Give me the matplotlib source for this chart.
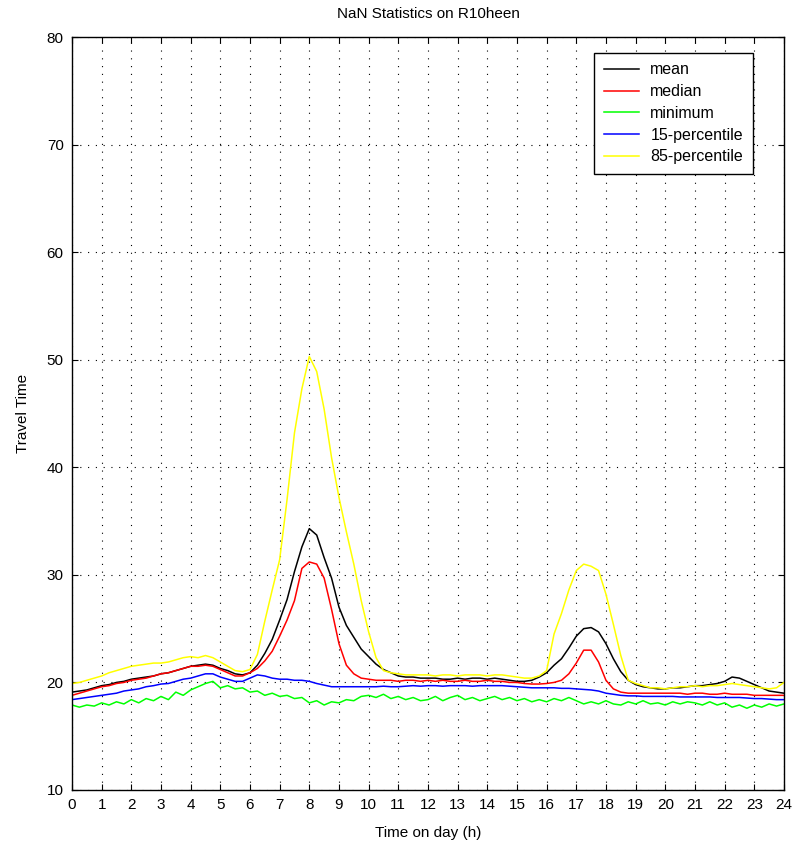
import matplotlib
matplotlib.use("Agg")
import matplotlib.pyplot as plt
import numpy as np

plt.rcParams['font.family'] = ['Liberation Sans Narrow', 'Liberation Sans', 'DejaVu Sans']

# hora del dia, cada 15 minutos
horas = np.arange(0, 24.01, 0.25)

media = [19.1, 19.2, 19.3, 19.5, 19.7, 19.8, 20.0, 20.1, 20.3, 20.4, 20.5, 20.6,
         20.8, 20.9, 21.1, 21.3, 21.5, 21.6, 21.7, 21.6, 21.3, 21.1, 20.8, 20.7,
         20.9, 21.6, 22.7, 24.0, 25.8, 27.7, 30.3, 32.6, 34.3, 33.7, 31.6, 29.7,
         27.0, 25.3, 24.2, 23.1, 22.4, 21.7, 21.2, 20.9, 20.6, 20.5, 20.5, 20.4,
         20.4, 20.4, 20.3, 20.3, 20.4, 20.3, 20.4, 20.4, 20.3, 20.4, 20.3, 20.2,
         20.1, 20.1, 20.2, 20.5, 20.9, 21.6, 22.2, 23.2, 24.3, 25.0, 25.1, 24.7,
         23.6, 22.2, 21.0, 20.2, 19.8, 19.6, 19.5, 19.4, 19.4, 19.5, 19.5, 19.6,
         19.7, 19.7, 19.8, 19.9, 20.1, 20.5, 20.4, 20.1, 19.8, 19.5, 19.2, 19.1,
         19.0]

mediana = [18.8, 19.0, 19.2, 19.4, 19.6, 19.7, 19.9, 20.0, 20.2, 20.3, 20.4, 20.6,
           20.8, 20.9, 21.1, 21.3, 21.5, 21.5, 21.6, 21.5, 21.2, 20.9, 20.6, 20.6,
           20.9, 21.3, 22.0, 22.9, 24.3, 25.8, 27.6, 30.6, 31.2, 31.0, 29.7, 26.8,
           23.6, 21.6, 20.8, 20.4, 20.3, 20.2, 20.2, 20.2, 20.1, 20.2, 20.2, 20.1,
           20.2, 20.1, 20.2, 20.1, 20.1, 20.2, 20.1, 20.1, 20.2, 20.1, 20.1, 20.0,
           20.0, 19.9, 19.85, 19.85, 19.9, 20.0, 20.2, 20.8, 21.8, 23.0, 23.0, 21.9,
           20.2, 19.4, 19.1, 19.0, 19.0, 19.0, 19.0, 19.0, 19.0, 19.0, 19.0, 18.9,
           19.0, 19.0, 18.9, 18.9, 19.0, 18.9, 18.9, 18.9, 18.8, 18.8, 18.8, 18.8,
           18.8]

minimo = [17.9, 17.7, 17.9, 17.8, 18.1, 17.9, 18.2, 18.0, 18.4, 18.1, 18.5, 18.3,
          18.7, 18.4, 19.1, 18.8, 19.3, 19.6, 19.9, 20.1, 19.5, 19.7, 19.4, 19.5,
          19.1, 19.2, 18.8, 19.0, 18.7, 18.8, 18.5, 18.6, 18.1, 18.3, 17.9, 18.2,
          18.1, 18.4, 18.3, 18.7, 18.8, 18.6, 18.9, 18.5, 18.7, 18.4, 18.6, 18.3,
          18.4, 18.7, 18.3, 18.6, 18.8, 18.4, 18.6, 18.3, 18.5, 18.7, 18.4, 18.6,
          18.3, 18.5, 18.2, 18.4, 18.2, 18.5, 18.3, 18.6, 18.3, 18.0, 18.2, 18.0,
          18.3, 18.0, 17.9, 18.2, 18.0, 18.3, 18.0, 18.1, 17.9, 18.2, 18.0, 18.2,
          18.1, 17.9, 18.2, 17.9, 18.1, 17.7, 17.9, 17.6, 17.9, 17.7, 18.0, 17.8,
          18.0]

perc15 = [18.4, 18.5, 18.6, 18.7, 18.8, 18.9, 19.0, 19.2, 19.3, 19.4, 19.6, 19.7,
          19.85, 19.9, 20.1, 20.3, 20.4, 20.6, 20.8, 20.8, 20.5, 20.3, 20.1, 20.1,
          20.4, 20.7, 20.6, 20.4, 20.3, 20.3, 20.2, 20.2, 20.1, 19.9, 19.75, 19.6,
          19.6, 19.6, 19.6, 19.6, 19.6, 19.6, 19.65, 19.6, 19.6, 19.65, 19.7, 19.65,
          19.7, 19.7, 19.65, 19.7, 19.7, 19.7, 19.65, 19.7, 19.7, 19.7, 19.7, 19.65,
          19.6, 19.55, 19.5, 19.5, 19.5, 19.5, 19.45, 19.45, 19.4, 19.35, 19.3, 19.2,
          19.0, 18.9, 18.8, 18.75, 18.75, 18.7, 18.7, 18.7, 18.7, 18.7, 18.65, 18.65,
          18.65, 18.65, 18.65, 18.6, 18.6, 18.6, 18.6, 18.55, 18.5, 18.5, 18.45, 18.4,
          18.4]

perc85 = [19.9, 20.0, 20.2, 20.4, 20.6, 20.9, 21.1, 21.3, 21.5, 21.6, 21.7, 21.8,
          21.8, 21.9, 22.1, 22.3, 22.4, 22.3, 22.5, 22.3, 21.9, 21.5, 21.1, 21.0,
          21.2, 22.6, 25.7, 28.6, 31.4, 37.0, 43.2, 47.3, 50.3, 48.9, 45.4, 40.9,
          37.2, 34.0, 31.0, 27.6, 24.7, 22.3, 21.1, 20.9, 20.8, 20.7, 20.7, 20.7,
          20.7, 20.6, 20.7, 20.7, 20.6, 20.7, 20.7, 20.7, 20.6, 20.7, 20.7, 20.6,
          20.5, 20.4, 20.4, 20.6, 21.1, 24.5, 26.4, 28.6, 30.4, 31.0, 30.8, 30.4,
          28.2, 25.4, 22.5, 20.2, 19.9, 19.7, 19.5, 19.5, 19.4, 19.5, 19.6, 19.6,
          19.7, 19.6, 19.7, 19.7, 19.8, 19.9, 19.8, 19.7, 19.6, 19.5, 19.4, 19.5,
          20.0]

series = [
    (media, "black", "mean"),
    (mediana, "red", "median"),
    (minimo, "#00ff00", "minimum"),
    (perc15, "blue", "15-percentile"),
    (perc85, "yellow", "85-percentile"),
]

fig = plt.figure(figsize=(7.98, 8.47), dpi=100)
ax = fig.add_axes([0.0902, 0.0673, 0.8922, 0.889])

for valores, color, nombre in series:
    ax.plot(horas, valores, color=color, lw=1.1, label=nombre)

ax.set_xlim(0, 24)
ax.set_ylim(10, 80)
ax.set_xticks(range(0, 25))
ax.set_yticks(range(10, 81, 10))
ax.grid(True, color="black", ls=(0, (1, 6)), lw=0.8)
ax.tick_params(direction="in", top=True, right=True, length=4, width=0.8,
               labelsize=11, pad=6)
for sp in ax.spines.values():
    sp.set_linewidth(1.0)

ax.set_title("NaN Statistics on R10heen", fontsize=11, pad=14)
ax.set_xlabel("Time on day (h)", fontsize=11, labelpad=10)
ax.set_ylabel("Travel Time", fontsize=11, labelpad=12)

leg = ax.legend(loc="upper right", bbox_to_anchor=(0.956, 0.979), fontsize=11.5,
                fancybox=False, framealpha=1, edgecolor="black",
                handlelength=2.2, labelspacing=0.42, borderpad=0.6,
                handletextpad=0.7, borderaxespad=0)
leg.get_frame().set_linewidth(1.0)

fig.savefig("out.png", dpi=100)
